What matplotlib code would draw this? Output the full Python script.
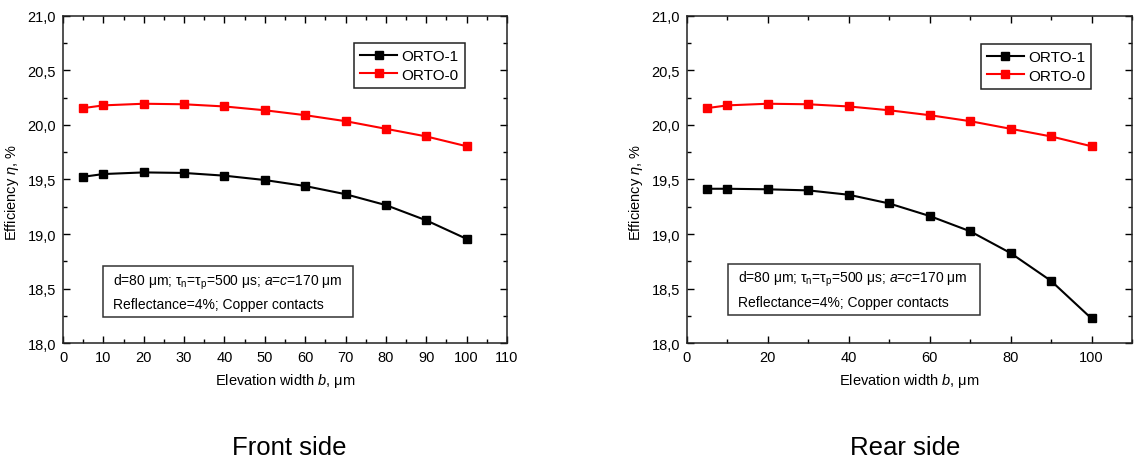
import matplotlib
matplotlib.use("Agg")
import matplotlib.pyplot as plt
from matplotlib.ticker import MultipleLocator, FuncFormatter
from matplotlib.patches import Rectangle

plt.rcParams['font.family'] = ['Liberation Sans', 'DejaVu Sans']
plt.rcParams['mathtext.fontset'] = 'custom'
plt.rcParams['mathtext.rm'] = 'Liberation Sans'
plt.rcParams['mathtext.it'] = 'Liberation Sans:italic'
plt.rcParams['mathtext.bf'] = 'Liberation Sans:bold'

# Elevation width b, um
width_b = [5, 10, 20, 30, 40, 50, 60, 70, 80, 90, 100]

# Efficiency, %
front_orto1 = [19.525, 19.55, 19.565, 19.56, 19.535, 19.495, 19.44, 19.365, 19.265, 19.125, 18.955]
front_orto0 = [20.155, 20.18, 20.195, 20.19, 20.17, 20.135, 20.09, 20.035, 19.965, 19.895, 19.805]
rear_orto1 = [19.415, 19.415, 19.41, 19.40, 19.36, 19.28, 19.165, 19.025, 18.825, 18.57, 18.225]
rear_orto0 = [20.155, 20.18, 20.195, 20.19, 20.17, 20.135, 20.09, 20.035, 19.965, 19.895, 19.805]

series_labels = ['ORTO-1', 'ORTO-0']
panel_titles = ['Front side', 'Rear side']

fig = plt.figure(figsize=(11.34, 4.64), dpi=100)
ax_l = fig.add_axes([0.0556, 0.2586, 0.3915, 0.7048])
ax_r = fig.add_axes([0.6058, 0.2586, 0.3924, 0.7048])

comma = FuncFormatter(lambda v, p: f"{v:.1f}".replace('.', ','))


def draw_panel(ax, orto1, orto0, xmajor, xminor, leg_anchor, box, text_x, text_y):
    ax.plot(width_b, orto1, '-s', color='black', lw=1.5, ms=6, label=series_labels[0])
    ax.plot(width_b, orto0, '-s', color='#ff0000', lw=1.5, ms=6, label=series_labels[1])
    ax.set_xlim(0, 110)
    ax.set_ylim(18.0, 21.0)
    ax.xaxis.set_major_locator(MultipleLocator(xmajor))
    ax.xaxis.set_minor_locator(MultipleLocator(xminor))
    ax.yaxis.set_major_locator(MultipleLocator(0.5))
    ax.yaxis.set_minor_locator(MultipleLocator(0.25))
    ax.yaxis.set_major_formatter(comma)
    ax.tick_params(which='both', direction='in', top=True, right=True,
                   labelsize=10.5, colors='black', width=1.0, pad=5)
    ax.tick_params(which='major', length=5)
    ax.tick_params(which='minor', length=3)
    for s in ax.spines.values():
        s.set_linewidth(1.1)
        s.set_color('#222222')
    ax.set_xlabel(r'Elevation width $b$, μm', fontsize=10.5, labelpad=5)
    ax.set_ylabel(r'Efficiency $\eta$, %', fontsize=10.5)
    ax.yaxis.set_label_coords(-0.094, 0.465)
    leg = ax.legend(loc='upper right', bbox_to_anchor=leg_anchor,
                    fontsize=11, fancybox=False, edgecolor='#222222',
                    handlelength=2.4, handletextpad=0.3, borderpad=0.4,
                    labelspacing=0.3, borderaxespad=0, framealpha=1)
    leg.get_frame().set_linewidth(1.1)
    x0, x1, y0, y1 = box
    ax.add_patch(Rectangle((x0, y0), x1 - x0, y1 - y0,
                           transform=ax.transAxes, fill=False,
                           edgecolor='#333333', lw=1.1))
    ax.text(text_x, text_y[0],
            r'd=80 μm; τ$_\mathrm{n}$=τ$_\mathrm{p}$=500 μs; $a$=$c$=170 μm',
            transform=ax.transAxes, fontsize=10, va='center', ha='left')
    ax.text(text_x, text_y[1], 'Reflectance=4%; Copper contacts',
            transform=ax.transAxes, fontsize=10, va='center', ha='left')


draw_panel(ax_l, front_orto1, front_orto0, 10, 5, (0.905, 0.917),
           (0.090, 0.654, 0.0795, 0.235), 0.113, (0.190, 0.119))
draw_panel(ax_r, rear_orto1, rear_orto0, 20, 10, (0.909, 0.914),
           (0.093, 0.658, 0.086, 0.242), 0.115, (0.199, 0.125))

fig.text(289 / 1134, 1 - 448 / 464, panel_titles[0], fontsize=18.5, ha='center', va='center')
fig.text(905 / 1134, 1 - 448 / 464, panel_titles[1], fontsize=18.5, ha='center', va='center')

fig.savefig('out.png', dpi=100)
